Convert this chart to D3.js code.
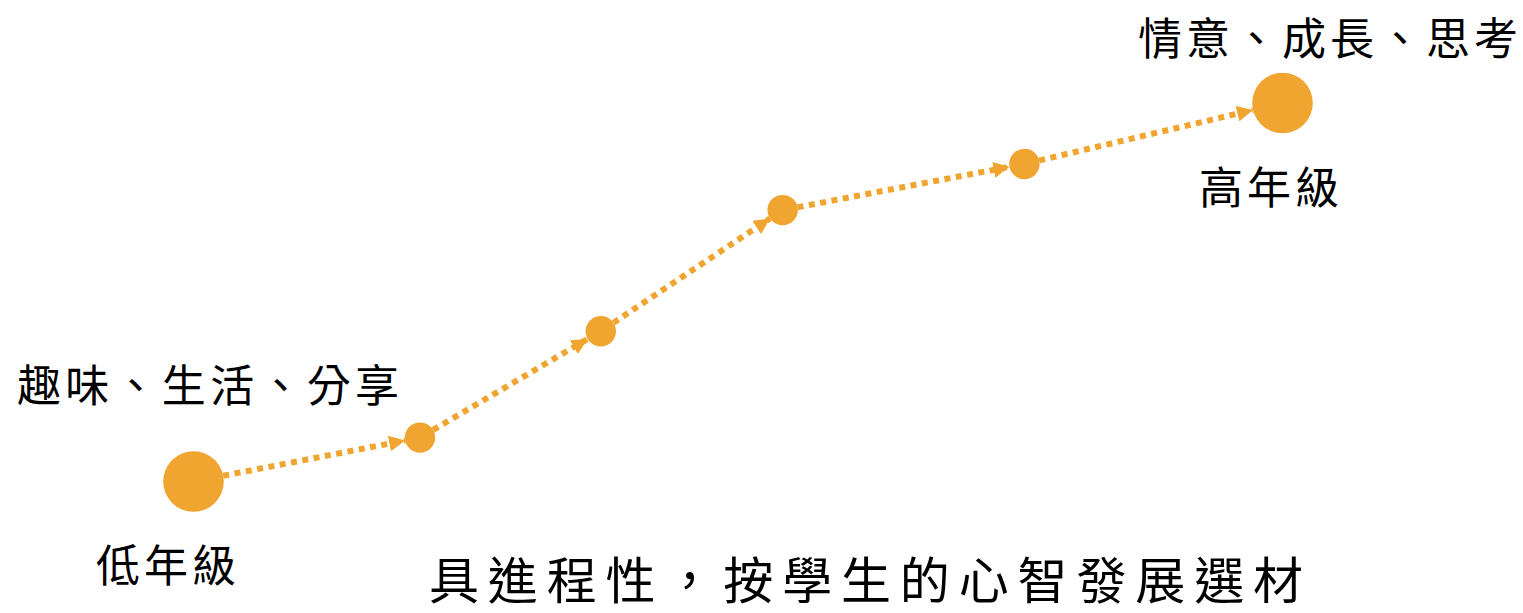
<!DOCTYPE html>
<html><head><meta charset="utf-8">
<script src="https://cdn.jsdelivr.net/npm/d3@7"></script>
<style>html,body{margin:0;padding:0;background:#fff;}svg{display:block;}</style>
</head><body>
<svg id="chart" width="1523" height="613"></svg>
<script>
// Data (abstract progression units)
const stages = ["低年級", "", "", "", "", "高年級"];
const progressX = [0, 20.8, 37.4, 54.1, 76.3, 100];
const progressY = [0, 11.6, 39.7, 71.7, 83.9, 100];
const weight = [2, 1, 1, 1, 1, 2];
const lowTopics = "趣味、生活、分享";
const highTopics = "情意、成長、思考";
const caption = "具進程性，按學生的心智發展選材";

const color = "#F0A530";
const font = "'Noto Sans CJK TC','Noto Sans CJK SC',sans-serif";
const svg = d3.select("#chart");

const x = d3.scaleLinear().domain([0, 100]).range([193.5, 1282.5]);
const y = d3.scaleLinear().domain([0, 100]).range([481.5, 103]);
const r = d3.scaleLinear().domain([1, 2]).range([15.2, 30.3]);

const pts = progressX.map((v, i) => ({x: x(v), y: y(progressY[i]), r: r(weight[i]), label: stages[i]}));

svg.append("defs").append("marker")
  .attr("id", "arrow").attr("markerUnits", "userSpaceOnUse")
  .attr("viewBox", "0 0 16 16").attr("refX", 16).attr("refY", 8)
  .attr("markerWidth", 16).attr("markerHeight", 16).attr("orient", "auto")
  .append("path").attr("d", "M0,0 L16,8 L0,16 Z").attr("fill", color);

const segs = d3.pairs(pts).map(([a, b]) => {
  const dx = b.x - a.x, dy = b.y - a.y, len = Math.hypot(dx, dy);
  const ux = dx / len, uy = dy / len;
  return {x1: a.x + ux * a.r, y1: a.y + uy * a.r, x2: b.x - ux * b.r, y2: b.y - uy * b.r};
});

svg.append("g").selectAll("line").data(segs).join("line")
  .attr("x1", d => d.x1).attr("y1", d => d.y1)
  .attr("x2", d => d.x2).attr("y2", d => d.y2)
  .attr("stroke", color).attr("stroke-width", 6)
  .attr("stroke-dasharray", "6,5.5")
  .attr("marker-end", "url(#arrow)");

svg.append("g").selectAll("circle").data(pts).join("circle")
  .attr("cx", d => d.x).attr("cy", d => d.y).attr("r", d => d.r)
  .attr("fill", color);

function label(txt, x0, base, len, size) {
  svg.append("text").attr("x", x0).attr("y", base)
    .attr("textLength", len).attr("lengthAdjust", "spacing")
    .attr("font-family", font).attr("font-size", size).attr("fill", "#000")
    .text(txt);
}
label(stages[0], 96, 582, 140, 44);
label(stages[5], 1199, 204, 140, 44);
label(lowTopics, 17, 402, 382, 44);
label(highTopics, 1138, 55, 380, 44);
label(caption, 429, 599, 874, 50);
</script>
</body></html>
